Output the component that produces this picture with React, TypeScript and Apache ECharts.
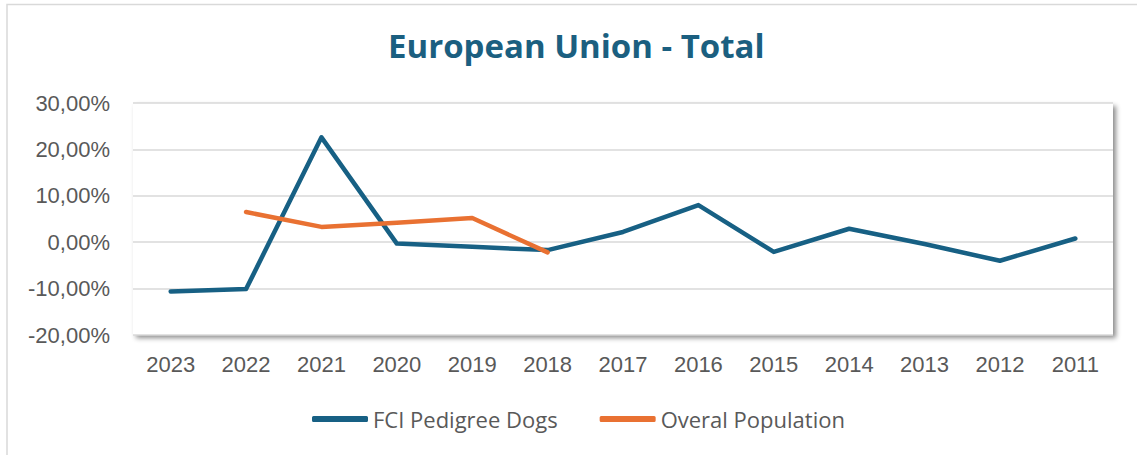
import React, { useEffect, useRef } from "react";
import * as echarts from "echarts";

const years = ["2023","2022","2021","2020","2019","2018","2017","2016","2015","2014","2013","2012","2011"];
const fciPedigreeDogs = [-10.6, -10.1, 22.6, -0.3, -1.0, -1.7, 2.2, 8.0, -2.1, 2.9, -0.4, -4.0, 0.8];
const overalPopulation = [null, 6.5, 3.3, 4.2, 5.2, -2.2, null, null, null, null, null, null, null];
const yMin = -20;
const yMax = 30;
const yInterval = 10;

export default function App() {
  const ref = useRef<HTMLDivElement>(null);
  useEffect(() => {
    if (!ref.current) return;
    const chart = echarts.init(ref.current, undefined, { renderer: "svg" });
    const axisFont = "'Liberation Sans', Arial, sans-serif";
    chart.setOption({
      animation: false,
      backgroundColor: "#ffffff",
      title: {
        text: "European Union - Total",
        left: 383,
        top: 24,
        textStyle: {
          fontFamily: "'Open Sans', sans-serif",
          fontWeight: "bold",
          fontSize: 33,
          color: "#1B5F80",
        },
      },
      graphic: [
        {
          type: "rect",
          shape: { x: 7, y: 4.5, width: 1140, height: 460 },
          style: { fill: "none", stroke: "#D9D9D9", lineWidth: 1.5 },
          silent: true,
          z: -10,
        },
      ],
      grid: {
        left: 133,
        right: 24,
        top: 103,
        bottom: 120,
        containLabel: false,
        show: true,
        backgroundColor: "#ffffff",
        borderWidth: 0,
        shadowColor: "rgba(0,0,0,0.45)",
        shadowBlur: 5,
        shadowOffsetX: 3,
        shadowOffsetY: 3,
      },
      legend: {
        top: 403,
        left: 307,
        itemWidth: 56,
        itemHeight: 6,
        itemGap: 42,
        textStyle: {
          fontFamily: "'Open Sans', sans-serif",
          fontSize: 22,
          color: "#595959",
        },
        data: [
          { name: "FCI Pedigree Dogs", icon: "roundRect" },
          { name: "Overal Population", icon: "roundRect" },
        ],
      },
      xAxis: {
        type: "category",
        data: years,
        boundaryGap: true,
        axisLine: { show: false },
        axisTick: { show: false },
        axisLabel: {
          margin: 18,
          fontFamily: axisFont,
          fontSize: 22,
          color: "#595959",
        },
      },
      yAxis: {
        type: "value",
        min: yMin,
        max: yMax,
        interval: yInterval,
        axisLine: { show: false },
        axisTick: { show: false },
        axisLabel: {
          margin: 23,
          fontFamily: axisFont,
          fontSize: 22,
          color: "#595959",
          formatter: (v: number) => v.toFixed(2).replace(".", ",") + "%",
        },
        splitLine: { lineStyle: { color: "#D9D9D9", width: 1.5 } },
      },
      series: [
        {
          name: "FCI Pedigree Dogs",
          type: "line",
          data: fciPedigreeDogs,
          symbol: "none",
          color: "#176084",
          lineStyle: { width: 4.5, color: "#176084", cap: "round", join: "round" },
          z: 2,
        },
        {
          name: "Overal Population",
          type: "line",
          data: overalPopulation,
          symbol: "none",
          color: "#E97132",
          lineStyle: { width: 4.5, color: "#E97132", cap: "round", join: "round" },
          z: 3,
        },
      ],
    });
    return () => chart.dispose();
  }, []);
  return (
    <div
      ref={ref}
      style={{ position: "fixed", left: 0, top: 0, width: 1137, height: 455 }}
    />
  );
}
